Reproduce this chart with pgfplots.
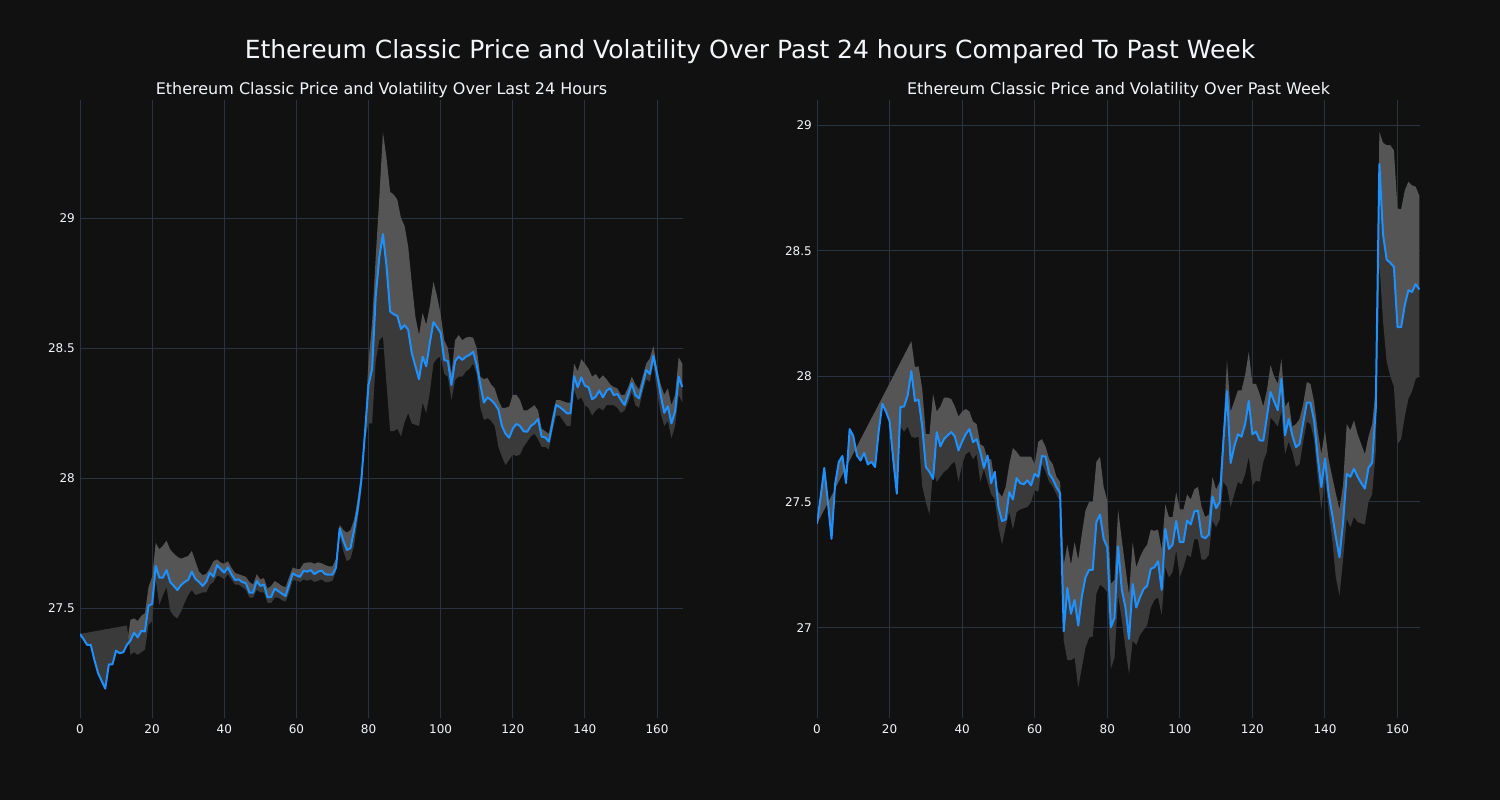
\documentclass[border=0pt]{standalone}
\usepackage{pgfplots}
\pgfplotsset{compat=1.18}
\usepackage{pgfplotstable}
\usepgfplotslibrary{fillbetween}
\usepackage{fontspec}
\setmainfont{DejaVu Sans}
\definecolor{bg}{HTML}{111111}
\definecolor{gridc}{HTML}{283442}
\definecolor{fg}{HTML}{F2F5FA}
\definecolor{pline}{HTML}{1E90FF}
\definecolor{bandhi}{HTML}{555555}
\definecolor{bandlo}{HTML}{3A3A3A}

\pgfplotstableread{
x p u l
0 27.400 27.400 27.400
1 27.380 27.380 27.403
2 27.358 27.358 27.405
3 27.358 27.358 27.408
4 27.300 27.300 27.410
5 27.250 27.250 27.413
6 27.220 27.220 27.415
7 27.190 27.190 27.418
8 27.283 27.283 27.420
9 27.283 27.283 27.423
10 27.336 27.336 27.425
11 27.326 27.326 27.428
12 27.330 27.330 27.430
13 27.358 27.358 27.433
14 27.375 27.455 27.320
15 27.405 27.460 27.330
16 27.387 27.450 27.320
17 27.412 27.470 27.330
18 27.410 27.480 27.340
19 27.510 27.580 27.435
20 27.515 27.620 27.450
21 27.662 27.750 27.610
22 27.617 27.726 27.512
23 27.617 27.740 27.550
24 27.646 27.759 27.580
25 27.600 27.725 27.490
26 27.585 27.710 27.470
27 27.569 27.697 27.460
28 27.588 27.690 27.486
29 27.600 27.695 27.520
30 27.608 27.700 27.550
31 27.640 27.720 27.570
32 27.612 27.680 27.550
33 27.600 27.640 27.555
34 27.585 27.626 27.560
35 27.601 27.632 27.560
36 27.636 27.652 27.590
37 27.620 27.680 27.600
38 27.665 27.687 27.625
39 27.650 27.675 27.620
40 27.636 27.670 27.610
41 27.656 27.680 27.630
42 27.630 27.655 27.610
43 27.608 27.635 27.590
44 27.610 27.630 27.590
45 27.600 27.625 27.580
46 27.595 27.620 27.570
47 27.559 27.600 27.540
48 27.559 27.590 27.540
49 27.604 27.630 27.570
50 27.585 27.610 27.560
51 27.590 27.615 27.560
52 27.541 27.575 27.520
53 27.543 27.585 27.520
54 27.574 27.604 27.540
55 27.565 27.595 27.540
56 27.555 27.585 27.530
57 27.546 27.580 27.525
58 27.590 27.620 27.560
59 27.633 27.656 27.607
60 27.625 27.650 27.605
61 27.620 27.650 27.600
62 27.643 27.672 27.610
63 27.640 27.675 27.605
64 27.646 27.676 27.610
65 27.630 27.670 27.600
66 27.640 27.676 27.605
67 27.644 27.672 27.610
68 27.630 27.665 27.600
69 27.628 27.660 27.600
70 27.628 27.660 27.605
71 27.656 27.690 27.640
72 27.806 27.820 27.780
73 27.760 27.800 27.720
74 27.723 27.790 27.680
75 27.730 27.800 27.690
76 27.800 27.840 27.740
77 27.880 27.920 27.840
78 27.990 28.020 27.950
79 28.170 28.200 28.150
80 28.358 28.450 28.210
81 28.420 28.600 28.210
82 28.700 28.850 28.450
83 28.850 29.080 28.530
84 28.938 29.330 28.545
85 28.813 29.230 28.360
86 28.640 29.100 28.180
87 28.630 29.090 28.180
88 28.623 29.070 28.190
89 28.573 29.000 28.160
90 28.588 28.970 28.215
91 28.570 28.890 28.250
92 28.480 28.750 28.210
93 28.430 28.620 28.205
94 28.380 28.550 28.200
95 28.467 28.635 28.290
96 28.430 28.590 28.250
97 28.520 28.660 28.330
98 28.600 28.755 28.440
99 28.580 28.700 28.460
100 28.559 28.630 28.467
101 28.454 28.530 28.400
102 28.450 28.500 28.390
103 28.358 28.400 28.300
104 28.450 28.530 28.377
105 28.467 28.550 28.390
106 28.454 28.530 28.390
107 28.467 28.540 28.410
108 28.473 28.543 28.420
109 28.486 28.540 28.440
110 28.435 28.500 28.400
111 28.360 28.390 28.270
112 28.290 28.380 28.223
113 28.310 28.385 28.230
114 28.300 28.360 28.220
115 28.285 28.345 28.200
116 28.264 28.300 28.120
117 28.200 28.270 28.082
118 28.170 28.270 28.050
119 28.155 28.275 28.070
120 28.190 28.320 28.090
121 28.208 28.320 28.085
122 28.200 28.300 28.090
123 28.180 28.260 28.120
124 28.178 28.260 28.140
125 28.200 28.270 28.160
126 28.210 28.280 28.170
127 28.227 28.260 28.150
128 28.159 28.190 28.120
129 28.156 28.180 28.120
130 28.140 28.170 28.110
131 28.210 28.240 28.180
132 28.281 28.300 28.240
133 28.273 28.300 28.240
134 28.262 28.295 28.220
135 28.249 28.290 28.200
136 28.249 28.290 28.200
137 28.392 28.441 28.340
138 28.349 28.410 28.300
139 28.387 28.457 28.310
140 28.355 28.440 28.280
141 28.349 28.420 28.270
142 28.303 28.390 28.240
143 28.313 28.400 28.260
144 28.336 28.380 28.270
145 28.310 28.395 28.260
146 28.336 28.380 28.280
147 28.345 28.360 28.280
148 28.319 28.350 28.280
149 28.323 28.345 28.270
150 28.300 28.320 28.250
151 28.281 28.320 28.260
152 28.320 28.350 28.290
153 28.364 28.390 28.330
154 28.319 28.360 28.280
155 28.306 28.340 28.270
156 28.360 28.390 28.330
157 28.415 28.440 28.380
158 28.400 28.460 28.370
159 28.470 28.508 28.440
160 28.400 28.420 28.330
161 28.320 28.360 28.250
162 28.251 28.320 28.200
163 28.276 28.345 28.220
164 28.210 28.280 28.153
165 28.255 28.320 28.200
166 28.390 28.464 28.320
167 28.350 28.440 28.290
}\dayTable

\pgfplotstableread{
x p u l
0 27.413 27.413 27.413
1 27.520 27.441 27.520
2 27.635 27.469 27.635
3 27.500 27.497 27.500
4 27.353 27.525 27.353
5 27.572 27.553 27.572
6 27.659 27.581 27.659
7 27.683 27.609 27.683
8 27.575 27.637 27.575
9 27.790 27.665 27.790
10 27.763 27.693 27.763
11 27.685 27.721 27.685
12 27.665 27.749 27.665
13 27.695 27.777 27.695
14 27.649 27.805 27.649
15 27.660 27.833 27.660
16 27.639 27.860 27.639
17 27.780 27.888 27.780
18 27.891 27.916 27.891
19 27.860 27.944 27.860
20 27.822 27.972 27.822
21 27.670 28.000 27.670
22 27.533 28.028 27.533
23 27.878 28.056 27.800
24 27.880 28.084 27.780
25 27.924 28.112 27.800
26 28.021 28.140 27.760
27 27.902 28.036 27.755
28 27.907 28.040 27.760
29 27.800 27.950 27.563
30 27.639 27.770 27.500
31 27.620 27.770 27.450
32 27.592 27.930 27.627
33 27.778 27.860 27.580
34 27.721 27.880 27.600
35 27.750 27.915 27.620
36 27.765 27.915 27.630
37 27.778 27.910 27.650
38 27.760 27.880 27.660
39 27.705 27.840 27.580
40 27.740 27.860 27.650
41 27.770 27.870 27.690
42 27.790 27.860 27.700
43 27.738 27.820 27.670
44 27.750 27.810 27.690
45 27.700 27.730 27.580
46 27.636 27.720 27.630
47 27.685 27.670 27.580
48 27.575 27.670 27.531
49 27.620 27.580 27.510
50 27.480 27.540 27.400
51 27.424 27.520 27.330
52 27.430 27.560 27.400
53 27.539 27.650 27.460
54 27.510 27.715 27.390
55 27.595 27.700 27.460
56 27.575 27.680 27.470
57 27.570 27.680 27.475
58 27.586 27.680 27.480
59 27.566 27.680 27.500
60 27.612 27.650 27.547
61 27.600 27.740 27.540
62 27.683 27.750 27.650
63 27.680 27.720 27.620
64 27.612 27.670 27.580
65 27.590 27.650 27.560
66 27.559 27.600 27.530
67 27.535 27.580 27.500
68 26.985 27.250 26.948
69 27.158 27.330 26.870
70 27.055 27.250 26.870
71 27.110 27.340 26.880
72 27.008 27.270 26.762
73 27.124 27.373 26.840
74 27.200 27.466 26.920
75 27.230 27.500 26.960
76 27.230 27.500 26.965
77 27.420 27.660 27.134
78 27.450 27.680 27.170
79 27.353 27.560 27.160
80 27.320 27.506 27.140
81 27.001 27.174 26.835
82 27.040 27.190 26.880
83 27.323 27.469 27.130
84 27.150 27.350 27.030
85 27.081 27.240 26.920
86 26.955 27.130 26.815
87 27.174 27.340 26.948
88 27.080 27.240 26.930
89 27.120 27.280 26.970
90 27.153 27.310 26.990
91 27.166 27.330 27.010
92 27.234 27.390 27.080
93 27.240 27.385 27.110
94 27.264 27.390 27.120
95 27.150 27.310 27.050
96 27.393 27.490 27.240
97 27.313 27.440 27.200
98 27.330 27.440 27.220
99 27.424 27.539 27.307
100 27.340 27.470 27.200
101 27.340 27.470 27.240
102 27.426 27.530 27.290
103 27.410 27.510 27.280
104 27.462 27.550 27.353
105 27.466 27.560 27.350
106 27.363 27.480 27.270
107 27.355 27.440 27.270
108 27.370 27.450 27.290
109 27.522 27.600 27.426
110 27.475 27.550 27.400
111 27.500 27.580 27.430
112 27.738 27.790 27.580
113 27.941 28.064 27.560
114 27.655 27.860 27.480
115 27.720 27.900 27.530
116 27.769 27.944 27.580
117 27.760 27.944 27.570
118 27.810 28.005 27.610
119 27.902 28.097 27.680
120 27.769 27.970 27.565
121 27.780 27.970 27.585
122 27.745 27.930 27.580
123 27.744 27.880 27.660
124 27.838 27.944 27.700
125 27.938 28.044 27.836
126 27.900 28.000 27.820
127 27.865 27.970 27.800
128 27.990 28.070 27.860
129 27.765 27.880 27.690
130 27.831 27.900 27.740
131 27.765 27.800 27.700
132 27.718 27.810 27.640
133 27.730 27.830 27.650
134 27.815 27.890 27.740
135 27.895 27.977 27.820
136 27.895 27.970 27.810
137 27.825 27.900 27.750
138 27.679 27.785 27.600
139 27.559 27.690 27.470
140 27.673 27.785 27.600
141 27.535 27.670 27.470
142 27.450 27.600 27.350
143 27.360 27.533 27.200
144 27.280 27.470 27.128
145 27.420 27.570 27.270
146 27.612 27.810 27.433
147 27.600 27.785 27.400
148 27.632 27.825 27.440
149 27.600 27.770 27.420
150 27.575 27.730 27.415
151 27.553 27.690 27.410
152 27.636 27.760 27.500
153 27.655 27.810 27.530
154 27.870 27.950 27.700
155 28.845 28.973 28.450
156 28.566 28.930 28.220
157 28.465 28.920 28.060
158 28.452 28.920 28.000
159 28.436 28.900 27.960
160 28.196 28.668 27.730
161 28.196 28.665 27.750
162 28.283 28.740 27.840
163 28.343 28.775 27.910
164 28.336 28.760 27.940
165 28.367 28.755 27.990
166 28.346 28.720 28.000
}\weekTable

\pgfplotsset{
  panel/.style={
    anchor=south west, scale only axis,
    width=603pt, height=618pt,
    axis line style={draw=none},
    tick style={draw=none},
    grid=major,
    grid style={draw=gridc, line width=1pt},
    xtick={0,20,...,160},
    ticklabel style={font=\fontsize{12}{14}\selectfont, text=fg},
    xticklabel style={inner sep=0pt, yshift=-6.5pt},
    yticklabel style={inner sep=0pt, xshift=-5pt},
    /pgf/number format/assume math mode=true,
  },
}

\begin{document}
\pagecolor{bg}%
\begin{tikzpicture}
\path (0,0) rectangle (1500pt,800pt);

\node[text=fg, font=\fontsize{25}{30}\selectfont] at (750pt,748pt) {Ethereum Classic Price and Volatility Over Past 24 hours Compared To Past Week};
\node[text=fg, font=\fontsize{16}{19}\selectfont] at (381.5pt,710pt) {Ethereum Classic Price and Volatility Over Last 24 Hours};
\node[text=fg, font=\fontsize{16}{19}\selectfont] at (1118.5pt,710pt) {Ethereum Classic Price and Volatility Over Past Week};

\begin{axis}[panel, at={(80pt,82pt)},
  xmin=0, xmax=167.2, ymin=27.077, ymax=29.454,
  ytick={27.5,28,28.5,29}]
  \addplot[draw=none, name path=U1] table[x=x,y=u]{\dayTable};
  \addplot[draw=none, name path=P1] table[x=x,y=p]{\dayTable};
  \addplot[draw=none, name path=L1] table[x=x,y=l]{\dayTable};
  \addplot[fill=bandhi, draw=none] fill between[of=U1 and P1];
  \addplot[fill=bandlo, draw=none] fill between[of=P1 and L1];
  \addplot[color=pline, line width=2pt, line join=round] table[x=x,y=p]{\dayTable};
\end{axis}

\begin{axis}[panel, at={(817pt,82pt)},
  xmin=0, xmax=166.2, ymin=26.64, ymax=29.10,
  ytick={27,27.5,28,28.5,29}]
  \addplot[draw=none, name path=U2] table[x=x,y=u]{\weekTable};
  \addplot[draw=none, name path=P2] table[x=x,y=p]{\weekTable};
  \addplot[draw=none, name path=L2] table[x=x,y=l]{\weekTable};
  \addplot[fill=bandhi, draw=none] fill between[of=U2 and P2];
  \addplot[fill=bandlo, draw=none] fill between[of=P2 and L2];
  \addplot[color=pline, line width=2pt, line join=round] table[x=x,y=p]{\weekTable};
\end{axis}
\end{tikzpicture}
\end{document}
